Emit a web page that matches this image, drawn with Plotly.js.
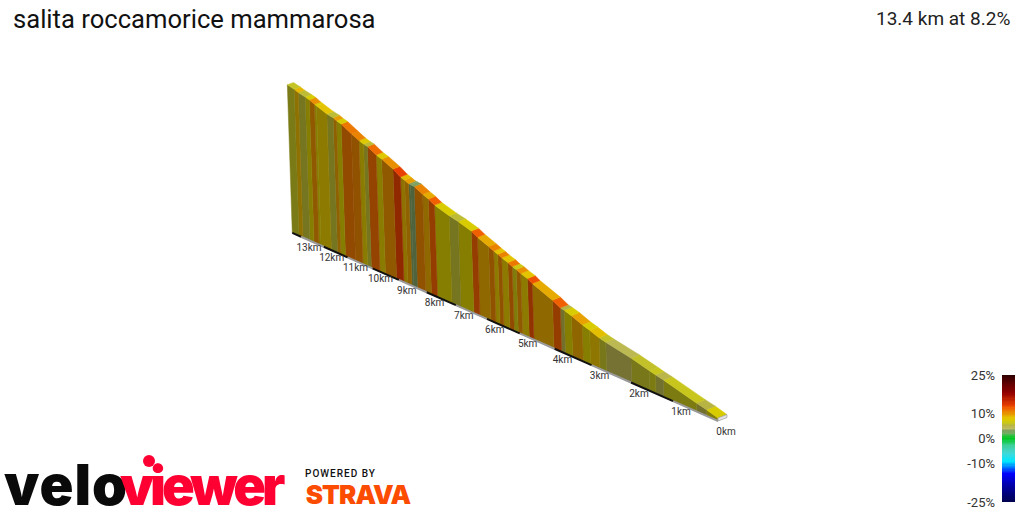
<!DOCTYPE html>
<html><head><meta charset="utf-8">
<script src="https://cdn.plot.ly/plotly-3.0.1.min.js"></script>
<style>html,body{margin:0;padding:0;background:#fff}#c{width:1024px;height:512px}
.annotation[data-index="1"] text{letter-spacing:1px}
.annotation[data-index="2"] text{letter-spacing:-4px}
.annotation[data-index="3"] text{letter-spacing:1px}
.annotation[data-index="4"] text{letter-spacing:-0.9px}
</style>
</head><body><div id="c"></div>
<script>
const titleText = "salita roccamorice mammarosa";
const summaryText = "13.4 km at 8.2%";
const segmentEdgesKm = [0,.245,.465,1.209,1.396,1.538,1.981,2.607,2.779,3.021,3.216,3.5,3.696,3.8,4.014,4.58,4.717,4.91,5.04,5.16,5.288,5.47,5.59,5.714,5.87,6.216,6.41,6.83,7.128,7.618,7.826,8.025,8.32,8.444,8.517,8.66,8.81,9.08,9.5,9.71,10.04,10.19,10.37,10.67,11.08,11.27,11.41,11.67,12.11,12.2,12.42,12.6,12.91,13.09,13.4];
const segmentGrades = [7,5,6.2,4.8,6.2,5.8,4.5,5.8,8.2,7,9.3,7,5,12,9,12.5,8,10,6.5,11,8,10.5,8,10.5,9,12,7,5.5,7,12,9,10.5,3,3,9.5,8.5,13,10,7.5,11.5,5.5,7.5,10.5,11,7,9.5,5.5,8,7,10,7,5.5,8.5,6];
const kmLabels = ["0km","1km","2km","3km","4km","5km","6km","7km","8km","9km","10km","11km","12km","13km"];
const kmValues = [0,1,2,3,4,5,6,7,8,9,10,11,12,13];
const gradeStops = [-25,-18,-14,-9,-6,-3,0,1,2,3,4,5,6,7,8,10,12,13,18,25];
const gradeColors = ["#000050","#0000b0","#0000ff","#00e8ff","#40d8d8","#40d0a0","#00c820","#30c040","#70b060","#80a060","#c0bc60","#b8b444","#c4c424","#d8cc00","#e4c400","#e89000","#f06000","#e84000","#900000","#300000"];
const scaleTicks = [-25,-10,0,10,25];
const scaleLabels = ["-25%","-10%","0%","10%","25%"];

// oblique camera
const A=46.56,B=0.03474,K=0.2,SLOPE=0.4418,X0=718,Y0=421;
function project(d,elev,depth){
  const p=1/(1+B*d), u=A*d*p, h=3*p+K*elev*p;
  return [X0-u-h/30+depth*9*p, Y0-SLOPE*u-h-depth*3.5*p];
}
function hex(c){return [1,3,5].map(i=>parseInt(c.substr(i,2),16));}
function colorOf(g,f){
  let i=0; while(i<gradeStops.length-2 && g>gradeStops[i+1]) i++;
  const t=(g-gradeStops[i])/(gradeStops[i+1]-gradeStops[i]);
  const a=hex(gradeColors[i]),b=hex(gradeColors[i+1]);
  return 'rgb('+a.map((v,k)=>Math.round((v+(b[k]-v)*t)*f)).join(',')+')';
}
const elev=[0];
segmentGrades.forEach((g,i)=>elev.push(elev[i]+(segmentEdgesKm[i+1]-segmentEdgesKm[i])*g*10));

function poly(pts,col,lw,lc){
  return {type:'scatter',mode:'lines',x:pts.map(p=>p[0]).concat(pts[0][0]),y:pts.map(p=>p[1]).concat(pts[0][1]),
    fill:'toself',fillcolor:col,line:{color:lc||col,width:lw===undefined?0.5:lw},hoverinfo:'skip',showlegend:false};
}
const traces=[];
segmentGrades.forEach((g,i)=>{
  const d0=segmentEdgesKm[i],d1=segmentEdgesKm[i+1],e0=elev[i],e1=elev[i+1];
  const base=(d)=>{const p=1/(1+B*d),u=A*d*p;return [X0-u,Y0-SLOPE*u];};
  traces.push(poly([base(d0),base(d1),project(d1,e1,0),project(d0,e0,0)],colorOf(g,0.62)));
  traces.push(poly([project(d0,e0,0),project(d1,e1,0),project(d1,e1,1),project(d0,e0,1)],colorOf(g,1)));
});
// end face at 0 km
const pb=[X0,Y0];
traces.push(poly([pb,[X0+9,Y0-3.5],project(0,0,1),project(0,0,0)],'#e4e4e4',0.7,'#999'));
// base line
kmValues.forEach(k=>{
  const a=k,b=Math.min(k+1,13.4);
  const pa=1/(1+B*a),pbb=1/(1+B*b),ua=A*a*pa,ub=A*b*pbb;
  traces.push({type:'scatter',mode:'lines',x:[X0-ua,X0-ub],y:[Y0-SLOPE*ua,Y0-SLOPE*ub],
    line:{color:k%2?'#111':'#9a9a9a',width:2},hoverinfo:'skip',showlegend:false});
});
// km labels
traces.push({type:'scatter',mode:'text',text:kmLabels,textposition:'middle center',
  x:kmValues.map(k=>{const u=A*k/(1+B*k);return X0-u+8;}),
  y:kmValues.map(k=>{const u=A*k/(1+B*k);return Y0-SLOPE*u+11.5;}),
  textfont:{family:'Roboto',size:10,color:'#333'},hoverinfo:'skip',showlegend:false});
// colour scale
const ramp=[];for(let g=-25;g<=25;g+=0.5)ramp.push(g);
traces.push({type:'heatmap',xaxis:'x2',yaxis:'y2',x:[0,1],y:ramp,z:ramp.map(g=>[g,g]),zmin:-25,zmax:25,
  colorscale:gradeStops.map((g,i)=>[(g+25)/50,gradeColors[i]]),showscale:false,hoverinfo:'skip'});

const hidden={showgrid:false,zeroline:false,showticklabels:false,ticks:'',showline:false};
const layout={width:1024,height:512,margin:{l:0,r:0,t:0,b:0},paper_bgcolor:'#fff',plot_bgcolor:'rgba(0,0,0,0)',showlegend:false,
  title:{text:titleText,x:13/1024,xanchor:'left',xref:'paper',y:1-19/512,yanchor:'middle',yref:'paper',font:{family:'Roboto',size:25.6,color:'#111'}},
  xaxis:Object.assign({range:[0,1024],domain:[0,1],fixedrange:true},hidden),
  yaxis:Object.assign({range:[512,0],domain:[0,1],fixedrange:true},hidden),
  xaxis2:Object.assign({domain:[1002/1024,1015/1024],range:[0,1],anchor:'y2'},hidden),
  yaxis2:{domain:[10/512,137/512],range:[-25,25],anchor:'x2',showgrid:false,zeroline:false,showline:false,side:'left',
    tickmode:'array',tickvals:scaleTicks,ticktext:scaleLabels,ticks:'',ticklabelstandoff:6,tickfont:{family:'Roboto',size:13,color:'#333'}},
  shapes:[{type:'circle',xref:'x',yref:'y',x0:143,x1:155,y0:455,y1:467,fillcolor:'#ff0033',line:{width:0}}],
  annotations:[
    {text:summaryText,xref:'paper',yref:'paper',x:1012/1024,y:1-18/512,xanchor:'right',yanchor:'middle',showarrow:false,font:{family:'Roboto',size:19,color:'#222'}},
    {text:'velo',xref:'paper',yref:'paper',x:4/1024,y:1-485/512,xanchor:'left',yanchor:'middle',showarrow:false,font:{family:'Inter',size:56,weight:900,color:'#0a0a0a'}},
    {text:'viewer',xref:'paper',yref:'paper',x:295/1024,y:1-485/512,xanchor:'right',yanchor:'middle',showarrow:false,font:{family:'Inter',size:54,weight:900,color:'#ff0033'}},
    {text:'POWERED BY',xref:'paper',yref:'paper',x:308/1024,y:1-473/512,xanchor:'left',yanchor:'middle',showarrow:false,font:{family:'Roboto',size:10,weight:500,color:'#111'}},
    {text:'STRAVA',xref:'paper',yref:'paper',x:301/1024,y:1-494/512,xanchor:'left',yanchor:'middle',showarrow:false,font:{family:'Inter',size:26,weight:900,color:'#fc4c02'}}
  ]};
Plotly.newPlot('c',traces,layout,{displayModeBar:false,staticPlot:true});
</script></body></html>
